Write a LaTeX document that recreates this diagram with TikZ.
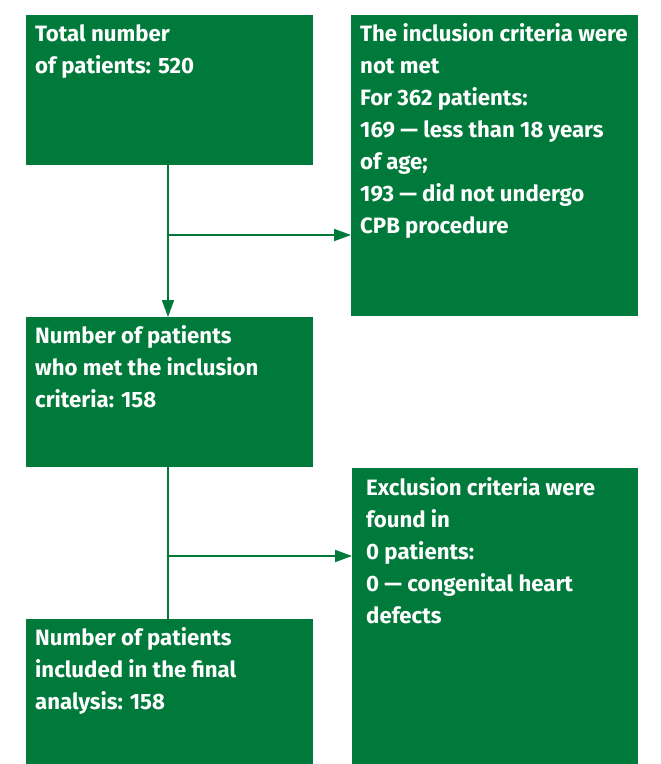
\documentclass[tikz,border=0pt]{standalone}
\usepackage{fontspec}
\setmainfont{Fira Sans}
\usetikzlibrary{arrows.meta}
\definecolor{boxgreen}{RGB}{0,122,58}
\newcommand{\boxtext}[1]{\parbox[t]{295pt}{\raggedright\fontsize{22.2}{32}\selectfont\bfseries #1}}
\tikzset{
  box/.style={fill=boxgreen, draw=none, inner sep=0pt, anchor=north west},
  txt/.style={text=white, anchor=base west, inner sep=0pt},
  conn/.style={draw=boxgreen, line width=1.8pt},
  arr/.style={conn, -{Triangle[length=17pt,width=12pt]}}
}
\begin{document}
\begin{tikzpicture}[x=1pt,y=-1pt]
\useasboundingbox (0,0) rectangle (661,764);
\node[box, minimum width=287pt, minimum height=150pt] (b1) at (26,15) {};
\node[box, minimum width=287pt, minimum height=301pt] (b2) at (351,15) {};
\node[box, minimum width=287pt, minimum height=150pt] (b3) at (26,317) {};
\node[box, minimum width=286pt, minimum height=296pt] (b4) at (352,468) {};
\node[box, minimum width=287pt, minimum height=145pt] (b5) at (26,619) {};
\node[txt] (t1) at (35,41) {\boxtext{Total number\\of patients: 520}};
\node[txt] (t2) at (360,41) {\boxtext{The inclusion criteria were\\not met\\For 362 patients:\\169 — less than 18 years\\of age;\\193 — did not undergo\\CPB procedure}};
\node[txt] (t3) at (35,343) {\boxtext{Number of patients\\who met the inclusion\\criteria: 158}};
\node[txt] (t4) at (366,495) {\boxtext{Exclusion criteria were\\found in\\0 patients:\\0 — congenital heart\\defects}};
\node[txt] (t5) at (35,645) {\boxtext{Number of patients\\included in the final\\analysis: 158}};
\coordinate (j1) at (168,235);
\coordinate (j2) at (168,556);
\draw[arr] (b1.south -| j1) -- (b3.north -| j1);
\draw[arr] (j1) -- (j1 -| b2.west);
\draw[conn] (b3.south -| j2) -- (b5.north -| j2);
\draw[arr] (j2) -- (j2 -| b4.west);
\end{tikzpicture}
\end{document}
